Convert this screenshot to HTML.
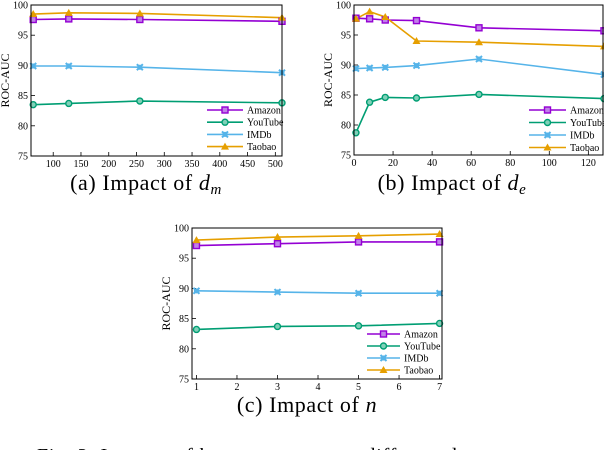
<!DOCTYPE html>
<html><head><meta charset="utf-8"><style>
html,body{margin:0;padding:0;background:#fff;width:604px;height:450px;overflow:hidden}
svg{display:block}
</style></head><body>
<svg id="fig" width="604" height="450" xmlns="http://www.w3.org/2000/svg" font-family="'Liberation Serif', serif">
<text x="146" y="190" font-size="22" text-anchor="middle" letter-spacing="0.6">(a)  Impact of <tspan font-style="italic">d</tspan><tspan font-style="italic" font-size="15" dy="4">m</tspan></text>
<text x="452" y="190" font-size="22" text-anchor="middle" letter-spacing="0.6">(b)  Impact of <tspan font-style="italic">d</tspan><tspan font-style="italic" font-size="15" dy="4">e</tspan></text>
<text x="307" y="412" font-size="22" text-anchor="middle" letter-spacing="0.6">(c)  Impact of <tspan font-style="italic">n</tspan></text>
<text x="37" y="462" font-size="20" letter-spacing="0.8">Fig. 3:  Impacts of key parameters on different datasets</text>
</svg>
<script>
const seriesNames = ["Amazon","YouTube","IMDb","Taobao"];
const seriesColors = ["#9400d3","#009e73","#56b4e9","#e69f00"];
const yTicks = [75,80,85,90,95,100];

const xA = [64,128,256,512];
const amazonA = [97.6,97.7,97.6,97.3];
const youtubeA = [83.5,83.7,84.1,83.8];
const imdbA = [89.9,89.9,89.7,88.8];
const taobaoA = [98.5,98.7,98.6,97.9];
const xTicksA = [100,150,200,250,300,350,400,450,500];

const xB = [1,8,16,32,64,128];
const amazonB = [97.8,97.7,97.5,97.4,96.2,95.7];
const youtubeB = [78.7,83.8,84.6,84.5,85.1,84.4];
const imdbB = [89.4,89.5,89.6,89.9,91.0,88.4];
const taobaoB = [97.7,98.9,98.0,94.0,93.8,93.1];
const xTicksB = [0,20,40,60,80,100,120];

const xC = [1,3,5,7];
const amazonC = [97.1,97.4,97.7,97.7];
const youtubeC = [83.2,83.7,83.8,84.2];
const imdbC = [89.6,89.4,89.2,89.2];
const taobaoC = [98.0,98.5,98.7,99.0];
const xTicksC = [1,2,3,4,5,6,7];

const NS="http://www.w3.org/2000/svg";
const svg=document.getElementById('fig');
function mk(tag,attrs,parent){const e=document.createElementNS(NS,tag);for(const k in attrs)e.setAttribute(k,attrs[k]);(parent||svg).appendChild(e);return e;}

function marker(g,i,x,y){
  const c=seriesColors[i];let m;
  if(i===0){m=mk('rect',{x:x-3,y:y-3,width:6,height:6,fill:'#c080e8',stroke:c,'stroke-width':1.4},g);}
  else if(i===1){m=mk('circle',{cx:x,cy:y,r:3,fill:'#80d0b8',stroke:c,'stroke-width':1.4},g);}
  else if(i===2){m=mk('path',{d:`M${x-3},${y-3}L${x+3},${y+3}M${x+3},${y-3}L${x-3},${y+3}M${x-2.5},${y}L${x+2.5},${y}M${x},${y-2.5}L${x},${y+2.5}`,stroke:c,'stroke-width':2},g);}
  else {m=mk('path',{d:`M${x},${y-4}L${x+4},${y+3}L${x-4},${y+3}Z`,fill:c},g);}
  
  
}

function chart(cfg){
  const g=mk('g',{});
  
  
  const {L,R,T,B,xmin,xmax}=cfg;
  const sx=v=>L+(v-xmin)/(xmax-xmin)*(R-L);
  const sy=v=>B-(v-75)/25*(B-T);
  yTicks.forEach(t=>{
    const y=sy(t);
    const tk=mk('line',{x1:L,x2:L+4,y1:y,y2:y,stroke:'#000','stroke-width':0.8},g);
    
    const tl=mk('text',{x:L-3,y:y+3.5,'font-size':10,'text-anchor':'end',fill:'#000'},g);
    tl.textContent=t;
  });
  cfg.xTicks.forEach(t=>{
    const x=sx(t);
    const tk=mk('line',{x1:x,x2:x,y1:B,y2:B-4,stroke:'#000','stroke-width':0.8},g);
    
    const tl=mk('text',{x:x,y:B+11,'font-size':10,'text-anchor':'middle',fill:'#000'},g);
    tl.textContent=t;
  });
  const yl=mk('text',{x:0,y:0,'font-size':12,'text-anchor':'middle',transform:`translate(${L-22},${(T+B)/2}) rotate(-90)`},g);
  yl.textContent='ROC-AUC';
  cfg.series.forEach((vals,i)=>{
    const pts=cfg.xs.map((x,j)=>sx(x)+','+sy(vals[j])).join(' ');
    const pl=mk('polyline',{points:pts,fill:'none',stroke:seriesColors[i],'stroke-width':1.6},g);
    
  });
  cfg.series.forEach((vals,i)=>{cfg.xs.forEach((x,j)=>marker(g,i,sx(x),sy(vals[j])));});
  const frame=mk('rect',{x:L,y:T,width:R-L,height:B-T,fill:'none',stroke:'#000','stroke-width':1},g);
  
  seriesNames.forEach((n,i)=>{
    const y=cfg.lg.y+i*cfg.lg.dy;
    const ln=mk('line',{x1:cfg.lg.x,x2:cfg.lg.x+cfg.lg.w,y1:y,y2:y,stroke:seriesColors[i],'stroke-width':1.6},g);
    
    marker(g,i,cfg.lg.x+cfg.lg.w/2,y);
    const t=mk('text',{x:cfg.lg.x+cfg.lg.w+4,y:y+3.5,'font-size':10},g);
    t.textContent=n;
  });
}

chart({name:'chart-a',L:31,R:282,T:5,B:156,xmin:60,xmax:512,xs:xA,xTicks:xTicksA,
  series:[amazonA,youtubeA,imdbA,taobaoA],lg:{x:207,w:36,y:110,dy:12.2}});
chart({name:'chart-b',L:354,R:603,T:5,B:155,xmin:0,xmax:127.5,xs:xB,xTicks:xTicksB,
  series:[amazonB,youtubeB,imdbB,taobaoB],lg:{x:529,w:37,y:110,dy:12.5}});
chart({name:'chart-c',L:192,R:442,T:228,B:379,xmin:0.89,xmax:7.06,xs:xC,xTicks:xTicksC,
  series:[amazonC,youtubeC,imdbC,taobaoC],lg:{x:367,w:33,y:334,dy:12}});
</script>
</body></html>
